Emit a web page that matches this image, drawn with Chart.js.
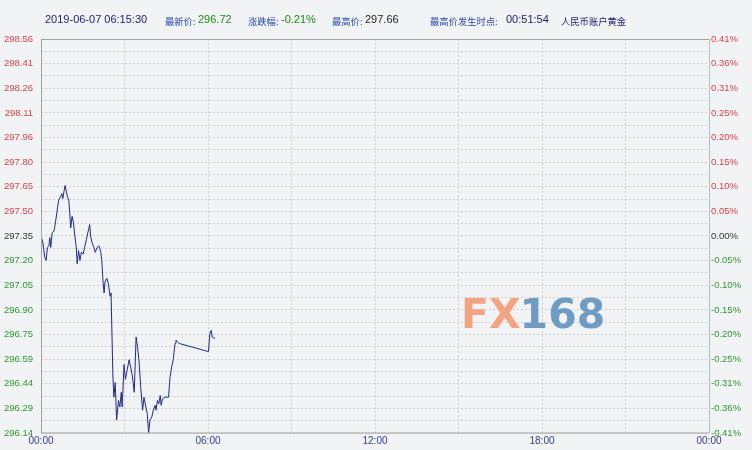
<!DOCTYPE html>
<html>
<head>
<meta charset="utf-8">
<script src="https://cdn.jsdelivr.net/npm/chart.js@4"></script>
<style>
  html, body { margin: 0; padding: 0; background: #f2f3f5; }
  #wrap { position: relative; width: 752px; height: 450px; }
  #head { position: absolute; top: 13px; left: 0; width: 752px; height: 16px;
          font: 11px "Liberation Sans", "Noto Sans CJK SC", sans-serif; white-space: nowrap; }
  #head span { position: absolute; top: 0; }
  .lab { color: #2a4aa8; font-family: "Noto Sans CJK SC", sans-serif; font-size: 9.3px; top: 1px !important; }
</style>
</head>
<body>
<div id="wrap">
  <canvas id="chart" width="752" height="450"></canvas>
  <div id="head">
    <span style="left:45px;color:#1c1c6c">2019-06-07 06:15:30</span>
    <span class="lab" style="left:165px">最新价:</span>
    <span style="left:198px;color:#1a8a1a">296.72</span>
    <span class="lab" style="left:248px">涨跌幅:</span>
    <span style="left:281px;color:#1a8a1a">-0.21%</span>
    <span class="lab" style="left:332px">最高价:</span>
    <span style="left:365px;color:#222">297.66</span>
    <span class="lab" style="left:430px">最高价发生时点:</span>
    <span style="left:506px;color:#1c1c6c">00:51:54</span>
    <span class="lab" style="left:561px;color:#1c1c6c">人民币账户黄金</span>
  </div>
</div>
<script>
// minutes since 00:00
const times = [0, 4, 8, 11, 14, 17, 19, 21, 24, 28, 31, 35, 38, 42, 45, 47, 50, 52, 57, 60, 62, 64, 67, 70, 73,
  76, 78, 81, 84, 87, 91, 94, 98, 101, 105, 107, 110, 114, 117, 121, 125, 129, 131, 134, 136, 138, 142, 145, 149,
  151, 155, 157, 160, 163, 167, 170, 173, 175, 179, 182, 186, 190, 193, 197, 201, 205, 208, 211, 215, 219, 222, 226,
  229, 232, 235, 239, 242, 246, 248, 251, 254, 257, 259, 262, 267, 275, 278, 282, 285, 289, 291, 294, 298,
  361, 364, 367, 369, 375];
const prices = [297.35, 297.31, 297.22, 297.20, 297.28, 297.29, 297.34, 297.28, 297.37, 297.38, 297.43, 297.51,
  297.57, 297.59, 297.61, 297.58, 297.63, 297.66, 297.59, 297.57, 297.49, 297.40, 297.47, 297.43, 297.35,
  297.28, 297.18, 297.26, 297.20, 297.25, 297.24, 297.28, 297.33, 297.37, 297.42, 297.35, 297.31, 297.28, 297.25,
  297.28, 297.29, 297.25, 297.20, 297.06, 297.00, 297.07, 297.09, 297.06, 296.98, 297.00, 296.49, 296.36, 296.45,
  296.22, 296.34, 296.30, 296.39, 296.30, 296.56, 296.47, 296.53, 296.59, 296.55, 296.49, 296.39, 296.73, 296.67,
  296.59, 296.42, 296.28, 296.36, 296.30, 296.26, 296.14, 296.22, 296.24, 296.28, 296.31, 296.28, 296.34, 296.32,
  296.37, 296.31, 296.35, 296.36, 296.36, 296.48, 296.55, 296.59, 296.69, 296.71, 296.70, 296.69,
  296.64, 296.75, 296.77, 296.73, 296.72];

const priceLabels = ['298.56', '298.41', '298.26', '298.11', '297.96', '297.80', '297.65', '297.50', '297.35',
  '297.20', '297.05', '296.90', '296.75', '296.59', '296.44', '296.29', '296.14'];
const pctLabels = ['0.41%', '0.36%', '0.31%', '0.25%', '0.20%', '0.15%', '0.10%', '0.05%', '0.00%',
  '-0.05%', '-0.10%', '-0.15%', '-0.20%', '-0.25%', '-0.31%', '-0.36%', '-0.41%'];
const timeLabels = ['00:00', '06:00', '12:00', '18:00', '00:00'];

const yMax = 298.56, yMin = 296.14;
const half = (yMax - yMin) / 32;

function labelColor(i) {
  if (i < 8) return '#d9424a';
  if (i === 8) return '#333333';
  return '#2f962f';
}

function buildYTicks(scale) {
  const t = [];
  for (let i = 0; i <= 32; i++) t.push({ value: yMax - i * half });
  scale.ticks = t;
}

const frame = {
  id: 'frame',
  beforeDatasetsDraw(chart) {
    const { ctx } = chart;
    ctx.save();
    ctx.font = 'bold 41px "DejaVu Sans", sans-serif';
    ctx.textBaseline = 'middle';
    ctx.fillStyle = '#f3a582';
    ctx.fillText('FX', 461, 317);
    const w = ctx.measureText('FX').width;
    ctx.fillStyle = '#6f9cc2';
    ctx.fillText('168', 461 + w - 1, 317);
    ctx.restore();
  },
  afterDraw(chart) {
    const { ctx, chartArea: a } = chart;
    ctx.save();
    ctx.strokeStyle = '#a0a0a0';
    ctx.lineWidth = 1;
    ctx.beginPath();
    ctx.moveTo(a.left, a.top + 0.5);
    ctx.lineTo(a.right, a.top + 0.5);
    ctx.moveTo(a.left + 0.5, a.top);
    ctx.lineTo(a.left + 0.5, a.bottom);
    ctx.lineTo(a.right, a.bottom);
    ctx.stroke();
    ctx.strokeStyle = '#a9c4d0';
    ctx.beginPath();
    ctx.moveTo(a.right + 0.5, a.top);
    ctx.lineTo(a.right + 0.5, a.bottom);
    ctx.stroke();
    ctx.restore();
  }
};

new Chart(document.getElementById('chart'), {
  type: 'line',
  data: {
    datasets: [{
      data: times.map((t, i) => ({ x: t, y: prices[i] })),
      borderColor: '#1e2a8a',
      borderWidth: 1,
      pointRadius: 0,
      tension: 0,
      yAxisID: 'y',
    }],
  },
  plugins: [frame],
  options: {
    responsive: false,
    animation: false,
    layout: { padding: { top: 39 } },
    plugins: { legend: { display: false }, tooltip: { enabled: false } },
    scales: {
      x: {
        type: 'linear',
        min: 0,
        max: 1440,
        afterFit(s) { s.height = 17; },
        ticks: {
          stepSize: 180,
          autoSkip: false,
          maxRotation: 0,
          padding: 2,
          color: '#3a3a8c',
          font: { family: '"Liberation Sans", sans-serif', size: 10 },
          callback: (v) => (v % 360 === 0 ? timeLabels[v / 360] : ''),
        },
        grid: { color: '#cdcdcd', drawTicks: false },
        border: { display: false, dash: [2, 2] },
      },
      y: {
        position: 'left',
        min: yMin,
        max: yMax,
        afterBuildTicks: buildYTicks,
        afterFit(s) { s.width = 41; },
        ticks: {
          autoSkip: false,
          padding: 8,
          color: (c) => labelColor(c.index / 2),
          font: { family: '"Liberation Sans", sans-serif', size: 9.5 },
          callback: (v, i) => (i % 2 === 0 ? priceLabels[i / 2] : ''),
        },
        grid: { color: '#cdcdcd', drawTicks: false },
        border: { display: false, dash: [2, 2] },
      },
      y2: {
        position: 'right',
        min: yMin,
        max: yMax,
        afterBuildTicks: buildYTicks,
        afterFit(s) { s.width = 43; },
        ticks: {
          autoSkip: false,
          padding: 2,
          color: (c) => labelColor(c.index / 2),
          font: { family: '"Liberation Sans", sans-serif', size: 9.5 },
          callback: (v, i) => (i % 2 === 0 ? pctLabels[i / 2] : ''),
        },
        grid: { display: false, drawTicks: false },
        border: { display: false },
      },
    },
  },
});
</script>
</body>
</html>
